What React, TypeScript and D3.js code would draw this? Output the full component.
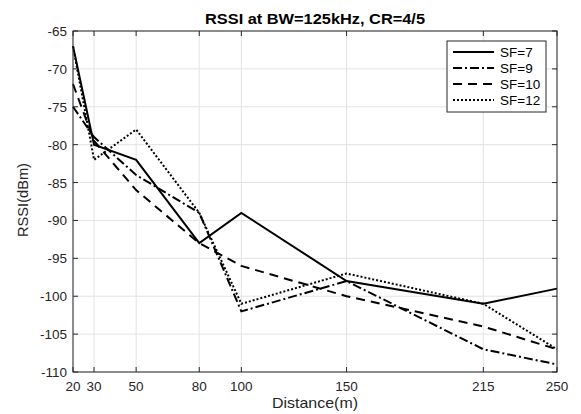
import React from "react";
import * as d3 from "d3";

const distances = [20, 30, 50, 80, 100, 150, 215, 250];
const sf7 = [-67, -80, -82, -93, -89, -98, -101, -99];
const sf9 = [-75, -79, -84, -89, -102, -98, -107, -109];
const sf10 = [-72, -79.5, -86, -93, -96, -100, -104, -107];
const sf12 = [-67, -82, -78, -89, -101, -97, -101, -107];
const seriesNames = ["SF=7", "SF=9", "SF=10", "SF=12"];
const seriesValues = [sf7, sf9, sf10, sf12];
const dashes = ["", "9,3,2,3", "9,6", "2,2"];
const yTicks = [-65, -70, -75, -80, -85, -90, -95, -100, -105, -110];
const xTicks = [20, 30, 50, 80, 100, 150, 215, 250];

export default function App() {
  const W = 581, H = 414;
  const L = 73, R = 557, T = 31, B = 372;
  const x = d3.scaleLinear().domain([20, 250]).range([L, R]);
  const y = d3.scaleLinear().domain([-110, -65]).range([B, T]);
  const line = d3.line<[number, number]>().x(d => x(d[0])).y(d => y(d[1]));
  const font = "'Liberation Sans', Arial, sans-serif";
  const axisColor = "#262626";
  const legX = 447, legY = 41, legW = 99, legH = 71;
  return (
    <svg width={W} height={H} style={{ position: "absolute", left: 0, top: 0 }} fontFamily={font}>
      <rect x={0} y={0} width={W} height={H} fill="#fff" />
      {xTicks.map(t => (
        <line key={"gx" + t} x1={x(t)} x2={x(t)} y1={T} y2={B} stroke="#e3e3e3" strokeWidth={1} />
      ))}
      {yTicks.map(t => (
        <line key={"gy" + t} x1={L} x2={R} y1={y(t)} y2={y(t)} stroke="#e3e3e3" strokeWidth={1} />
      ))}
      {seriesValues.map((vals, i) => (
        <path key={i} d={line(distances.map((d, j) => [d, vals[j]]) as [number, number][]) || ""}
          fill="none" stroke="#000" strokeWidth={2} strokeDasharray={dashes[i]} />
      ))}
      <rect x={L} y={T} width={R - L} height={B - T} fill="none" stroke={axisColor} strokeWidth={1} />
      {xTicks.map(t => (
        <g key={"tx" + t}>
          <line x1={x(t)} x2={x(t)} y1={B} y2={B - 5} stroke={axisColor} />
          <line x1={x(t)} x2={x(t)} y1={T} y2={T + 5} stroke={axisColor} />
          <text x={x(t)} y={B + 19} textAnchor="middle" fontSize={13.5} fill={axisColor}>{t}</text>
        </g>
      ))}
      {yTicks.map(t => (
        <g key={"ty" + t}>
          <line x1={L} x2={L + 5} y1={y(t)} y2={y(t)} stroke={axisColor} />
          <line x1={R} x2={R - 5} y1={y(t)} y2={y(t)} stroke={axisColor} />
          <text x={L - 6} y={y(t) + 5} textAnchor="end" fontSize={13.5} fill={axisColor}>{t}</text>
        </g>
      ))}
      <text x={315} y={24} textAnchor="middle" fontSize={14} fontWeight="bold" fill="#000"
        textLength={220} lengthAdjust="spacingAndGlyphs">RSSI at BW=125kHz, CR=4/5</text>
      <text x={315} y={408} textAnchor="middle" fontSize={15} fill={axisColor}
        textLength={86} lengthAdjust="spacingAndGlyphs">Distance(m)</text>
      <text transform={`translate(28,200) rotate(-90)`} textAnchor="middle" fontSize={15} fill={axisColor}
        textLength={74} lengthAdjust="spacingAndGlyphs">RSSI(dBm)</text>
      <rect x={legX} y={legY} width={legW} height={legH} fill="#fff" stroke={axisColor} strokeWidth={1} />
      {seriesNames.map((n, i) => (
        <g key={n}>
          <line x1={legX + 6} x2={legX + 47} y1={legY + 11 + i * 16} y2={legY + 11 + i * 16}
            stroke="#000" strokeWidth={2} strokeDasharray={dashes[i]} />
          <text x={legX + 53} y={legY + 16 + i * 16} fontSize={13.5} fill="#000">{n}</text>
        </g>
      ))}
    </svg>
  );
}
